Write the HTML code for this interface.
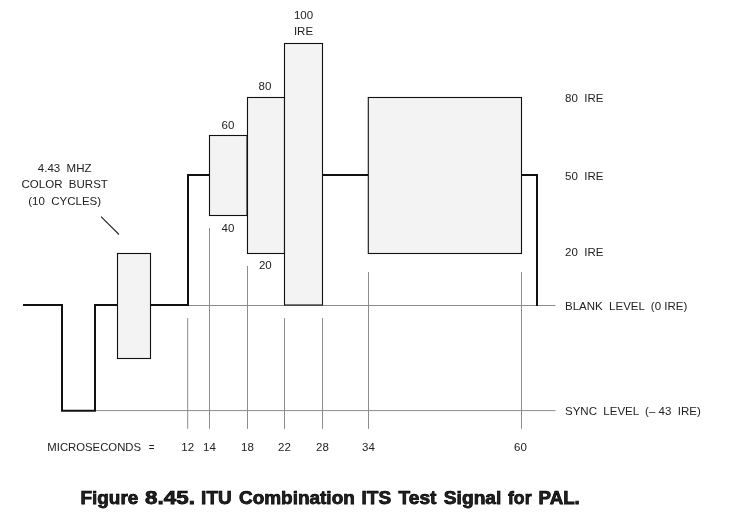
<!DOCTYPE html>
<html><head><meta charset="utf-8">
<style>
html,body{margin:0;padding:0;background:#fff;}
svg{display:block;}
text{font-family:"Liberation Sans",sans-serif;fill:#222;}
.t{font-size:11.5px;}
.cap{font-family:"Liberation Sans",sans-serif;font-weight:bold;font-size:18.8px;fill:#000;stroke:#000;stroke-width:0.75px;}
</style></head><body>
<svg width="737" height="531" viewBox="0 0 737 531">
<rect width="737" height="531" fill="#fff"/>
<!-- thin grey lines -->
<g stroke="#8c8c8c" stroke-width="1" fill="none">
<line x1="188" y1="305.5" x2="555.5" y2="305.5"/>
<line x1="95" y1="410.6" x2="555.5" y2="410.6"/>
<line x1="187.700" y1="318" x2="187.700" y2="428.8"/>
<line x1="209.500" y1="228" x2="209.500" y2="428.8"/>
<line x1="247.500" y1="266" x2="247.500" y2="428.8"/>
<line x1="284.500" y1="318" x2="284.500" y2="428.8"/>
<line x1="322.500" y1="318" x2="322.500" y2="428.8"/>
<line x1="368.500" y1="272" x2="368.500" y2="428.8"/>
<line x1="521.500" y1="272" x2="521.500" y2="428.8"/>
</g>
<!-- waveform -->
<g stroke="#111" stroke-width="2" fill="none" stroke-linejoin="miter">
<polyline points="23,305 62,305 62,410.700 95,410.700 95,305 118,305"/>
<polyline points="150,305 188,305 188,175 209,175"/>
<line x1="322" y1="175" x2="368" y2="175"/>
<polyline points="521,175 537,175 537,306"/>
</g>
<!-- boxes -->
<g stroke="#111" stroke-width="1.1" fill="#f3f3f3">
<rect x="117.5" y="253.5" width="33" height="105"/>
<rect x="209.5" y="135.5" width="37.500" height="80"/>
<rect x="247.5" y="97.5" width="37" height="156"/>
<rect x="284.5" y="43.5" width="38" height="261.5"/>
<rect x="368.3" y="97.5" width="153.200" height="156"/>
</g>
<line x1="101" y1="216.700" x2="119" y2="234.500" stroke="#222" stroke-width="1.15"/>
<g class="t" text-anchor="middle">
<text x="303.500" y="19.300" xml:space="preserve">100</text>
<text x="303.500" y="35.300" xml:space="preserve">IRE</text>
<text x="265" y="90" xml:space="preserve">80</text>
<text x="228" y="129" xml:space="preserve">60</text>
<text x="228" y="232" xml:space="preserve">40</text>
<text x="265.300" y="269" xml:space="preserve">20</text>
<text x="64.700" y="171.700" xml:space="preserve">4.43  MHZ</text>
<text x="64.700" y="188" xml:space="preserve">COLOR  BURST</text>
<text x="64.700" y="205.200" xml:space="preserve">(10  CYCLES)</text>
<text x="187.700" y="451" xml:space="preserve">12</text>
<text x="209.500" y="451" xml:space="preserve">14</text>
<text x="247.500" y="451" xml:space="preserve">18</text>
<text x="284.500" y="451" xml:space="preserve">22</text>
<text x="322.500" y="451" xml:space="preserve">28</text>
<text x="368.500" y="451" xml:space="preserve">34</text>
<text x="520.500" y="451" xml:space="preserve">60</text>
</g>
<g class="t">
<text x="47.300" y="451" textLength="93.800" lengthAdjust="spacingAndGlyphs">MICROSECONDS</text>
<text x="148.800" y="451" textLength="5.800" lengthAdjust="spacingAndGlyphs">=</text>
<text x="565" y="102.200" xml:space="preserve">80  IRE</text>
<text x="565" y="180" xml:space="preserve">50  IRE</text>
<text x="565" y="256" xml:space="preserve">20  IRE</text>
<text x="565" y="310" xml:space="preserve">BLANK  LEVEL  (0 IRE)</text>
<text x="565" y="415" xml:space="preserve">SYNC  LEVEL  (– 43  IRE)</text>
</g>
<g class="cap">
<text x="80.5" y="504.100" textLength="57.77" lengthAdjust="spacingAndGlyphs">Figure</text>
<text x="145.12" y="504.100" textLength="49.77" lengthAdjust="spacingAndGlyphs">8.45.</text>
<text x="201.13" y="504.100" textLength="30.56" lengthAdjust="spacingAndGlyphs">ITU</text>
<text x="238.94" y="504.100" textLength="115.87" lengthAdjust="spacingAndGlyphs">Combination</text>
<text x="361.52" y="504.100" textLength="29.58" lengthAdjust="spacingAndGlyphs">ITS</text>
<text x="398.46" y="504.100" textLength="37.99" lengthAdjust="spacingAndGlyphs">Test</text>
<text x="443.82" y="504.100" textLength="57.52" lengthAdjust="spacingAndGlyphs">Signal</text>
<text x="507.99" y="504.100" textLength="23.54" lengthAdjust="spacingAndGlyphs">for</text>
<text x="538.53" y="504.100" textLength="41.32" lengthAdjust="spacingAndGlyphs">PAL.</text>
</g>
</svg>
</body></html>
